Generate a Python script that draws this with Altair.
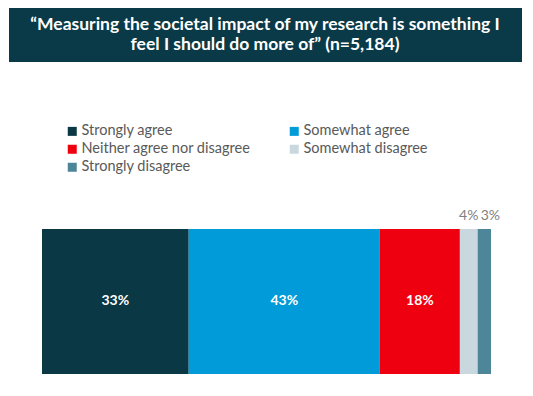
import altair as alt
import pandas as pd

title_lines = ["\u201cMeasuring the societal impact of my research is something I",
               "feel I should do more of\u201d (n=5,184)"]
categories = ["Strongly agree", "Somewhat agree", "Neither agree nor disagree",
              "Somewhat disagree", "Strongly disagree"]
values = [33, 43, 18, 4, 3]
colors = ["#0b3845", "#009bd8", "#ee0010", "#c9d8de", "#4d8599"]
inside = [True, True, True, False, False]
# legend is laid out column by column: list it so rows read as in the reference
legend_order = ["Strongly agree", "Neither agree nor disagree", "Strongly disagree",
                "Somewhat agree", "Somewhat disagree"]

starts = []
acc = 0
for v in values:
    starts.append(acc)
    acc += v
df = pd.DataFrame({
    "cat": categories,
    "value": values,
    "start": starts,
    "end": [s + v for s, v in zip(starts, values)],
    "label": [f"{v}%" for v in values],
    "inside": inside,
})
df["mid"] = (df["start"] + df["end"]) / 2

W, H = 515, 378
xscale = alt.Scale(domain=[0, acc], range=[34, 483])

box = alt.Chart(pd.DataFrame({"a": [0]})).mark_rect(color="#0a3a47").encode(
    x=alt.value(1), x2=alt.value(514), y=alt.value(0), y2=alt.value(54))

tdf = pd.DataFrame({"line": title_lines, "i": list(range(len(title_lines)))})
title = alt.Chart(tdf).mark_text(font="Lato", fontWeight="bold", fontSize=17.5,
                                 color="white", align="center", baseline="middle").encode(
    x=alt.value(257),
    y=alt.Y("i:Q", scale=alt.Scale(domain=[0, 1], range=[17, 37]), axis=None),
    text="line:N")

color_map = dict(zip(categories, colors))
bars = alt.Chart(df).mark_rect().encode(
    x=alt.X("start:Q", scale=xscale, axis=None),
    x2="end:Q",
    y=alt.value(221), y2=alt.value(366),
    color=alt.Color("cat:N",
                    scale=alt.Scale(domain=legend_order,
                                    range=[color_map[c] for c in legend_order]),
                    legend=alt.Legend(title=None, orient="none", legendX=57, legendY=116,
                                      columns=2, columnPadding=36, rowPadding=3,
                                      symbolType="square", symbolSize=81,
                                      symbolStrokeWidth=0, symbolOpacity=1,
                                      labelFont="Lato", labelFontSize=14.5,
                                      labelColor="#595959", labelOffset=2,
                                      labelLimit=300)),
)

inner = alt.Chart(df).transform_filter("datum.inside").mark_text(
    font="Lato", fontWeight="bold", fontSize=14, color="white",
    align="center", baseline="middle").encode(
    x=alt.X("mid:Q", scale=xscale, axis=None),
    y=alt.value(293), text="label:N")

# nudge the last small label right so the two outside labels do not collide
outer = alt.Chart(df).transform_filter("!datum.inside").transform_calculate(
    pos="datum.cat == 'Strongly disagree' ? datum.mid + 1.35 : datum.mid"
).mark_text(
    font="Lato", fontSize=14, color="#7f7f7f",
    align="center", baseline="middle").encode(
    x=alt.X("pos:Q", scale=xscale, axis=None),
    y=alt.value(208), text="label:N")

chart = alt.layer(box, title, bars, inner, outer).properties(
    width=W, height=H, autosize=alt.AutoSizeParams(type="none"), padding=0,
    background="white"
).configure_view(stroke=None)

chart.save("out.html", embed_options={"renderer": "svg", "actions": False})
